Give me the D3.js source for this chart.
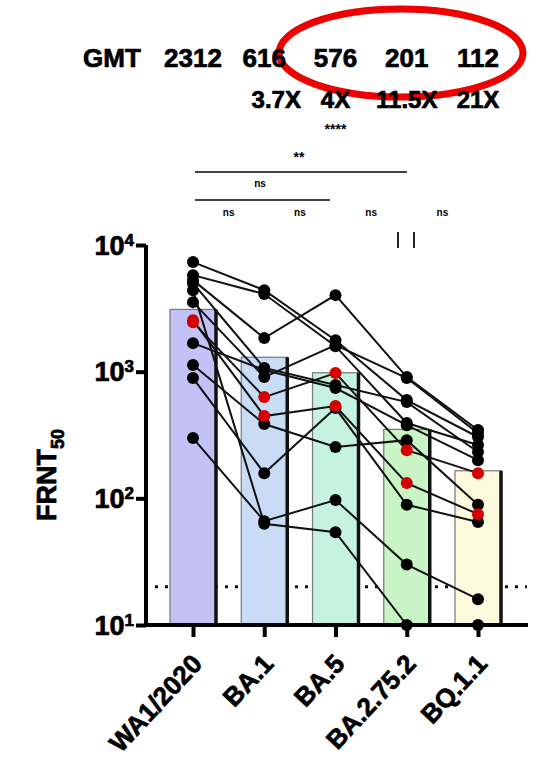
<!DOCTYPE html>
<html>
<head>
<meta charset="utf-8">
<script src="https://cdn.jsdelivr.net/npm/d3@7"></script>
<style>
  body { margin: 0; background: #fff; }
  text { font-family: "Liberation Sans", Arial, sans-serif; font-weight: bold; }
  .heavy { stroke: #000; stroke-width: 0.7px; }
</style>
</head>
<body>
<div id="chart"></div>
<script>
// variants along the x axis
var variants = ["WA1/2020", "BA.1", "BA.5", "BA.2.75.2", "BQ.1.1"];
var gmtLabels = ["2312", "616", "576", "201", "112"];
var foldLabels = ["", "3.7X", "4X", "11.5X", "21X"];
var barValues = [3100, 1300, 980, 350, 165];
var colors = ["#c2c2f7", "#c9dcf6", "#c6f3e1", "#c9f5c6", "#fdfadd"];

// FRNT50 of each subject (same order in every array)
var wa1    = [7330, 5780, 5280, 5000, 3540, 2460, 2550, 1680, 1130, 890, 299, 4400];
var ba1    = [4400, 4100, 1840, 1070,  906,  630,  446, 1030,  386, 158,  66,   63];
var ba5    = [1770, 1590, 4020,  784, 1620,  975,  535,  743,  254, 516,  97,   54];
var ba2752 = [ 597,  393,  906,  575,  890,  240,  132,  378,  288,  89,  30,   10];
var bq11   = [ 305,  264,  346,  232,  327,  158,   75,  200,   89,  65,  16,   10];
var redSubjects = [5, 6];
var detectionLimit = 20;

var columns = [wa1, ba1, ba5, ba2752, bq11];
var subjects = wa1.map(function(d, i) {
  return columns.map(function(col, j) { return { v: j, value: col[i] }; });
});

var svg = d3.select("#chart").append("svg")
  .attr("width", 538).attr("height", 760);

var x = d3.scalePoint().domain(variants).range([193, 478]);
var y = d3.scaleLog().domain([10, 10000]).range([625, 245]);
var barW = 46;

// red circle around the last three GMT values
svg.append("ellipse")
  .attr("cx", 401).attr("cy", 53).attr("rx", 122).attr("ry", 44)
  .attr("fill", "none").attr("stroke", "#ee0000").attr("stroke-width", 7);

// GMT row
svg.append("text").attr("class", "heavy").attr("x", 112).attr("y", 67).attr("text-anchor", "middle")
  .style("font-size", "26px").text("GMT");
svg.selectAll(".gmt").data(gmtLabels).enter().append("text")
  .attr("class", "heavy")
  .attr("x", function(d, i) { return x(variants[i]); })
  .attr("y", 67).attr("text-anchor", "middle")
  .style("font-size", "26px").text(function(d) { return d; });

// fold reductions
svg.selectAll(".fold").data(foldLabels).enter().append("text")
  .attr("class", "heavy")
  .attr("x", function(d, i) { return x(variants[i]) + (i == 1 ? 12 : 0); })
  .attr("y", 108).attr("text-anchor", "middle")
  .style("font-size", "24px").text(function(d) { return d; });

svg.append("text").attr("x", x("BA.5")).attr("y", 134).attr("text-anchor", "middle")
  .style("font-size", "14px").text("****");

// significance brackets
var brackets = [
  { x1: 195, x2: 407, y: 172, label: "**", size: "14px", lx: 299, ly: 162 },
  { x1: 195, x2: 330, y: 200, label: "ns", size: "10px", lx: 260, ly: 187 }
];
brackets.forEach(function(b) {
  svg.append("line")
    .attr("x1", b.x1).attr("x2", b.x2)
    .attr("y1", b.y).attr("y2", b.y)
    .attr("stroke", "#444").attr("stroke-width", 2);
  svg.append("text").attr("x", b.lx).attr("y", b.ly)
    .attr("text-anchor", "middle").style("font-size", b.size).text(b.label);
});
// ns between neighbours
d3.range(4).forEach(function(i) {
  svg.append("text")
    .attr("x", (x(variants[i]) + x(variants[i + 1])) / 2)
    .attr("y", 216).attr("text-anchor", "middle")
    .style("font-size", "10px").text("ns");
});
[398, 414].forEach(function(px) {
  svg.append("line").attr("x1", px).attr("x2", px).attr("y1", 232).attr("y2", 248)
    .attr("stroke", "#222").attr("stroke-width", 2);
});

// limit of detection
svg.append("line")
  .attr("x1", 155).attr("x2", 527)
  .attr("y1", y(detectionLimit)).attr("y2", y(detectionLimit))
  .attr("stroke", "#111").attr("stroke-width", 3).attr("stroke-dasharray", "3,7");

// bars
var bars = svg.selectAll(".bar").data(barValues).enter().append("g");
bars.append("rect")
  .attr("x", function(d, i) { return x(variants[i]) - barW / 2; })
  .attr("y", function(d) { return y(d); })
  .attr("width", barW)
  .attr("height", function(d) { return y(10) - y(d); })
  .attr("fill", function(d, i) { return colors[i]; })
  .attr("stroke", "#777").attr("stroke-width", 1.2);
bars.append("line")
  .attr("x1", function(d, i) { return x(variants[i]) + barW / 2; })
  .attr("x2", function(d, i) { return x(variants[i]) + barW / 2; })
  .attr("y1", function(d) { return y(d); })
  .attr("y2", y(10))
  .attr("stroke", "#111").attr("stroke-width", 3.5);

// subject lines
var line = d3.line()
  .x(function(d) { return x(variants[d.v]); })
  .y(function(d) { return y(d.value); });
svg.selectAll(".subj").data(subjects).enter().append("path")
  .attr("d", line).attr("fill", "none")
  .attr("stroke", "#111").attr("stroke-width", 2);

var pts = [];
subjects.forEach(function(s, i) {
  s.forEach(function(p) { pts.push({ v: p.v, value: p.value, red: redSubjects.indexOf(i) >= 0 }); });
});
pts.sort(function(a, b) { return a.red - b.red; });
svg.selectAll(".pt").data(pts).enter().append("circle")
  .attr("cx", function(d) { return x(variants[d.v]); })
  .attr("cy", function(d) { return y(d.value); })
  .attr("r", 6)
  .attr("fill", function(d) { return d.red ? "#d40000" : "#000"; });

// axes
var yAxis = d3.axisLeft(y).tickValues([10, 100, 1000, 10000])
  .tickSize(10).tickFormat("");
var gy = svg.append("g").attr("transform", "translate(146,0)").call(yAxis);
gy.select(".domain").attr("stroke-width", 4).attr("d", "M0,245V625");
gy.selectAll(".tick line").attr("stroke-width", 4);
gy.selectAll(".tick").append("text")
  .attr("class", "heavy")
  .attr("x", -12).attr("y", 9).attr("fill", "#000")
  .attr("text-anchor", "end")
  .style("font-size", "27px")
  .each(function(d) {
    var t = d3.select(this);
    t.append("tspan").text("10");
    t.append("tspan").attr("dy", -9).style("font-size", "17px").text(Math.round(Math.log10(d)));
  });

var xAxis = d3.axisBottom(x).tickSize(12).tickFormat("");
var gx = svg.append("g").attr("transform", "translate(0,625)").call(xAxis);
gx.select(".domain").attr("stroke-width", 4).attr("d", "M144,0H528");
gx.selectAll(".tick line").attr("stroke-width", 4);
gx.selectAll(".tick").append("text")
  .attr("class", "heavy")
  .attr("fill", "#000").attr("text-anchor", "end")
  .attr("transform", "translate(10,40) rotate(-47)")
  .style("font-size", "26px")
  .text(function(d) { return d; });

// y axis title
var yt = svg.append("text")
  .attr("class", "heavy")
  .attr("transform", "translate(56,475) rotate(-90)")
  .attr("text-anchor", "middle")
  .style("font-size", "27px");
yt.append("tspan").text("FRNT");
yt.append("tspan").attr("dy", 8).style("font-size", "18px").text("50");
</script>
</body>
</html>
